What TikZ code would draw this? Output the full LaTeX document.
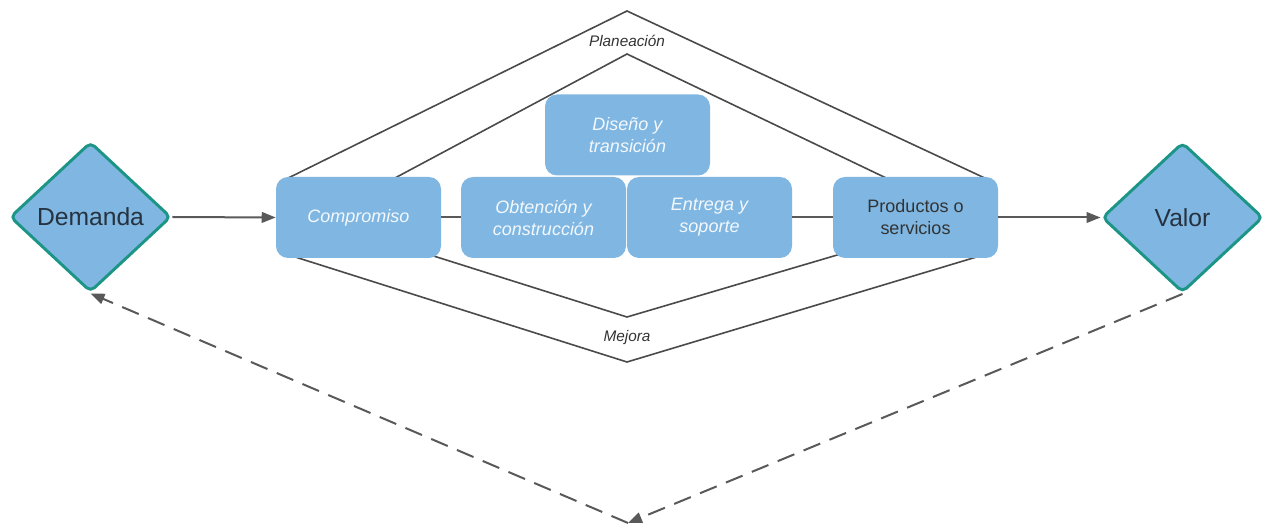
\documentclass[tikz,border=0pt]{standalone}
\usepackage{fontspec}
\setmainfont{Liberation Sans}
\usetikzlibrary{shapes.geometric,arrows.meta,calc}
\pgfdeclarelayer{background}
\pgfsetlayers{background,main}
\definecolor{boxblue}{HTML}{7FB7E2}
\definecolor{tealedge}{HTML}{1C9586}
\definecolor{linegray}{HTML}{4A4A4A}
\definecolor{arrowgray}{HTML}{595959}
\definecolor{darktext}{HTML}{26323F}
\definecolor{labeltext}{HTML}{333333}
\definecolor{softwhite}{HTML}{F4F8FC}
\tikzset{
  stagebox/.style={rectangle, rounded corners=9pt, fill=boxblue, draw=none,
    minimum width=123.75pt, minimum height=60.75pt, inner sep=2pt, align=center,
    font=\fontsize{13.5pt}{16.5pt}\selectfont},
  softstage/.style={stagebox, text=softwhite, font=\fontsize{13.5pt}{16.5pt}\selectfont\itshape},
  endpoint/.style={diamond, fill=boxblue, draw=tealedge, line width=2.2pt,
    rounded corners=4pt, minimum width=120.75pt, minimum height=112.5pt,
    inner sep=0pt, text=darktext, font=\fontsize{18.5pt}{22pt}\selectfont},
  frameline/.style={draw=linegray, line width=1.2pt},
  flow/.style={draw=arrowgray, line width=1.5pt,
    -{Triangle[length=10.5pt, width=8pt]}},
  plainlink/.style={draw=arrowgray, line width=1.5pt},
  feedback/.style={draw=arrowgray, line width=1.5pt, dash pattern=on 13.5pt off 7.5pt,
    -{Triangle[length=10.5pt, width=8pt]}},
  phase/.style={text=labeltext, font=\fontsize{11.5pt}{13pt}\selectfont\itshape}
}
\begin{document}
\begin{tikzpicture}[x=0.75pt, y=-0.75pt]
  \useasboundingbox (0,0) rectangle (1265,527);

  % value chain stages
  \node[softstage] (comp) at (358.5,217.5) {Compromiso};
  \node[softstage] (dis)  at (627.5,135) {Diseño y\\transición};
  \node[softstage] (obt)  at (543.5,217.5) {Obtención y\\construcción};
  \node[softstage] (ent)  at (709.5,217.5) {Entrega y\\soporte};
  \node[stagebox, text=labeltext] (prod) at (915.5,217.5) {Productos o\\servicios};

  % frame apexes
  \coordinate (outerTop) at (627,11);
  \coordinate (innerTop) at (627,54);
  \coordinate (innerBot) at (627,317);
  \coordinate (outerBot) at (627,362);

  % planning and improvement frames, kept under the stage boxes
  \begin{pgfonlayer}{background}
    \path[frameline] ($(comp.north west)+(11,2)$) -- (outerTop) -- ($(prod.north east)+(-12,2)$);
    \path[frameline] ($(comp.north west)+(116,3)$) -- (innerTop) -- ($(prod.north west)+(57,3)$);
    \path[frameline] ($(comp.south west)+(14,-3)$) -- (outerBot) -- ($(prod.south east)+(-16,-3)$);
    \path[frameline] ($(comp.south east)+(-10,-3)$) -- (innerBot) -- ($(prod.south west)+(7,-4)$);
  \end{pgfonlayer}

  \node[phase] (plan) at (627,41) {Planeación};
  \node[phase] (mej)  at (627,338) {Mejora};

  % demand and value
  \node[endpoint] (dem) at (90.5,217) {Demanda};
  \node[endpoint] (val) at (1182.5,217.5) {Valor};

  % flow through the chain
  \draw[flow] (dem.east) -- (comp.west);
  \draw[plainlink] (comp.east) -- (obt.west);
  \draw[plainlink] (ent.east) -- (prod.west);
  \draw[flow] (prod.east) -- (val.west);

  % feedback loop from value back to demand
  \coordinate (loopBot) at (628,523);
  \draw[feedback] (val.south) -- (loopBot);
  \draw[feedback] (loopBot) -- (dem.south);
\end{tikzpicture}
\end{document}
